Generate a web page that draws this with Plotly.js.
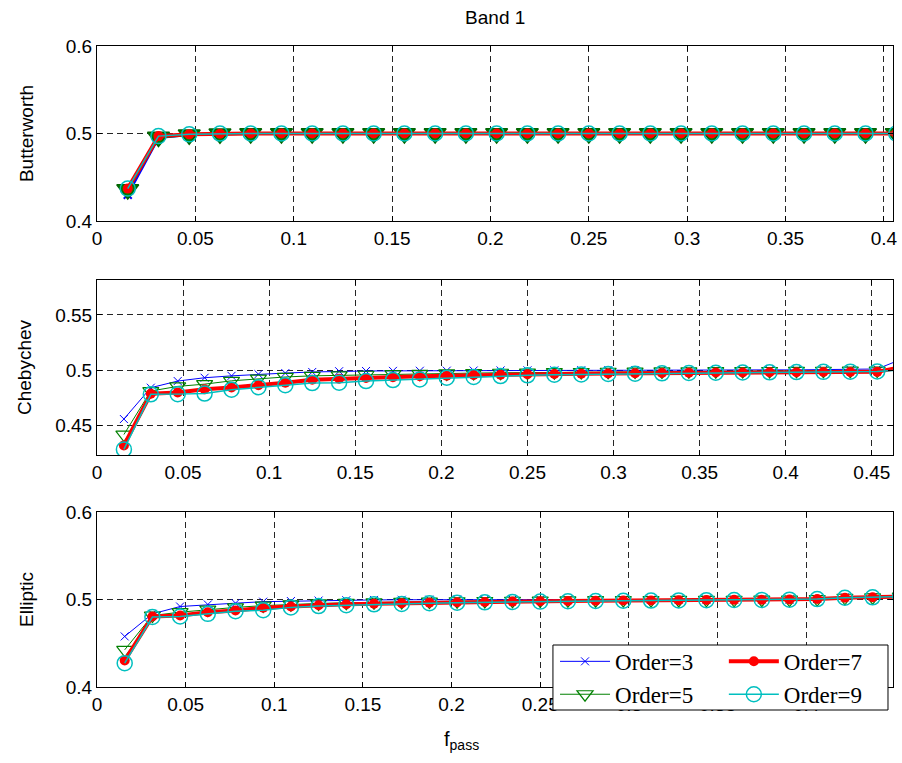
<!DOCTYPE html>
<html>
<head>
<meta charset="utf-8">
<script src="https://cdn.plot.ly/plotly-3.0.1.min.js"></script>
<style>html,body{margin:0;padding:0;background:#fff;}</style>
</head>
<body>
<div id="chart" style="width:902px;height:763px;"></div>
<script>
// f_pass sample points
var fpass = [0.015625, 0.03125, 0.046875, 0.0625, 0.078125, 0.09375, 0.109375, 0.125, 0.140625, 0.15625,
             0.171875, 0.1875, 0.203125, 0.21875, 0.234375, 0.25, 0.265625, 0.28125, 0.296875, 0.3125,
             0.328125, 0.34375, 0.359375, 0.375, 0.390625, 0.40625, 0.421875, 0.4375, 0.453125, 0.46875];

var seriesNames = ['Order=3', 'Order=5', 'Order=7', 'Order=9'];

// Butterworth panel
var butter3 = [0.430, 0.495, 0.4985, 0.4995, 0.5, 0.5, 0.5, 0.5, 0.5, 0.5, 0.5, 0.5, 0.5, 0.5, 0.5, 0.5, 0.5, 0.5, 0.5, 0.5, 0.5, 0.5, 0.5, 0.5, 0.5, 0.5];
var butter5 = [0.436, 0.496, 0.4985, 0.4997, 0.5, 0.5, 0.5, 0.5, 0.5, 0.5, 0.5, 0.5, 0.5, 0.5, 0.5, 0.5, 0.5, 0.5, 0.5, 0.5, 0.5, 0.5, 0.5, 0.5, 0.5, 0.5];
var butter7 = [0.437, 0.497, 0.499, 0.4998, 0.5, 0.5, 0.5, 0.5, 0.5, 0.5, 0.5, 0.5, 0.5, 0.5, 0.5, 0.5, 0.5, 0.5, 0.5, 0.5, 0.5, 0.5, 0.5, 0.5, 0.5, 0.5];
var butter9 = [0.437, 0.497, 0.499, 0.4999, 0.5, 0.5, 0.5, 0.5, 0.5, 0.5, 0.5, 0.5, 0.5, 0.5, 0.5, 0.5, 0.5, 0.5, 0.5, 0.5, 0.5, 0.5, 0.5, 0.5, 0.5, 0.5];

// Chebychev panel
var cheby3 = [0.456, 0.4843, 0.4903, 0.4933, 0.4950, 0.4965, 0.4975, 0.4985, 0.4992, 0.4994, 0.4995, 0.4996, 0.4997, 0.4998, 0.4999,
              0.5, 0.5, 0.5001, 0.5001, 0.5002, 0.5002, 0.5003, 0.5003, 0.5003, 0.5004, 0.5004, 0.5005, 0.5006, 0.5012, 0.511];
var cheby5 = [0.442, 0.4813, 0.4855, 0.4875, 0.4905, 0.4925, 0.494, 0.495, 0.4955, 0.496, 0.4965, 0.4968, 0.4972, 0.4975, 0.4978,
              0.498, 0.4983, 0.4985, 0.4987, 0.4989, 0.499, 0.4991, 0.4992, 0.4993, 0.4994, 0.4995, 0.4996, 0.4997, 0.4998, 0.5015];
var cheby7 = [0.4322, 0.4788, 0.4800, 0.4828, 0.4845, 0.4865, 0.4888, 0.4915, 0.4925, 0.4930, 0.4938, 0.4946, 0.4952, 0.4957, 0.4961,
              0.4964, 0.4967, 0.4970, 0.4972, 0.4974, 0.4976, 0.4978, 0.4980, 0.4981, 0.4982, 0.4983, 0.4984, 0.4985, 0.4986, 0.5035];
var cheby9 = [0.4286, 0.4783, 0.4785, 0.4790, 0.4825, 0.4848, 0.4865, 0.4885, 0.4888, 0.4903, 0.4912, 0.4918, 0.4933, 0.4940, 0.4948,
              0.4955, 0.4960, 0.4963, 0.4967, 0.4970, 0.4973, 0.4976, 0.4978, 0.4980, 0.4982, 0.4984, 0.4986, 0.4988, 0.4990, 0.5005];

// Elliptic panel
var ellip3 = [0.4578, 0.4836, 0.4920, 0.4943, 0.4958, 0.4975, 0.4982, 0.4988, 0.4992, 0.4995, 0.4997, 0.4998, 0.4999, 0.5, 0.5,
              0.5, 0.5, 0.5, 0.5, 0.5, 0.5, 0.5, 0.5, 0.5, 0.5, 0.5008, 0.5025, 0.5028, 0.5035];
var ellip5 = [0.4425, 0.4817, 0.4855, 0.4885, 0.4910, 0.4930, 0.4945, 0.4955, 0.4962, 0.4968, 0.4972, 0.4976, 0.4980, 0.4983, 0.4986,
              0.4988, 0.4990, 0.4992, 0.4993, 0.4994, 0.4995, 0.4996, 0.4997, 0.4998, 0.4999, 0.5005, 0.5020, 0.5025, 0.5032];
var ellip7 = [0.4303, 0.4806, 0.4817, 0.4855, 0.4874, 0.4905, 0.4920, 0.4935, 0.4945, 0.4952, 0.4958, 0.4963, 0.4968, 0.4972, 0.4976,
              0.4980, 0.4983, 0.4986, 0.4988, 0.4990, 0.4992, 0.4994, 0.4996, 0.4998, 0.5000, 0.5005, 0.5020, 0.5025, 0.5032];
var ellip9 = [0.4272, 0.4800, 0.4806, 0.4836, 0.4866, 0.4878, 0.4910, 0.4925, 0.4935, 0.4945, 0.4950, 0.4958, 0.4963, 0.4968, 0.4972,
              0.4976, 0.4980, 0.4983, 0.4986, 0.4988, 0.4990, 0.4992, 0.4994, 0.4995, 0.4998, 0.5005, 0.5020, 0.5025, 0.5032];

var panelTitles = ['Butterworth', 'Chebychev', 'Elliptic'];

// styles per order: thick (top panel) or thin (lower panels)
function styleFor(order, thick) {
  if (order === 0) return {
    line: {color: '#0000ff', width: thick ? 2.5 : 1},
    marker: {symbol: 'x-thin-open', size: 8, color: '#0000ff', line: {color: '#0000ff', width: thick ? 2 : 1}}
  };
  if (order === 1) return {
    line: {color: '#008000', width: thick ? 3 : 1},
    marker: thick
      ? {symbol: 'triangle-down', size: 19, color: '#008000', line: {color: '#006400', width: 1.5}}
      : {symbol: 'triangle-down-open', size: 14, color: '#008000', line: {color: '#008000', width: 1.2}}
  };
  if (order === 2) return {
    line: {color: '#ff0000', width: 4},
    marker: {symbol: 'circle', size: 10, color: '#ff0000', line: {width: 0}}
  };
  return {
    line: {color: '#00bfbf', width: 1.5},
    marker: {symbol: 'circle-open', size: 15, color: '#00bfbf', line: {color: '#00bfbf', width: 1.5}}
  };
}

var panels = [
  [butter3, butter5, butter7, butter9],
  [cheby3, cheby5, cheby7, cheby9],
  [ellip3, ellip5, ellip7, ellip9]
];

var traces = [];
panels.forEach(function (series, p) {
  series.forEach(function (vals, o) {
    var st = styleFor(o, p === 0);
    var t = {
      type: 'scatter',
      mode: 'lines+markers',
      x: fpass.slice(0, vals.length),
      y: vals,
      name: seriesNames[o],
      xaxis: p === 0 ? 'x' : 'x' + (p + 1),
      yaxis: p === 0 ? 'y' : 'y' + (p + 1),
      line: st.line,
      marker: st.marker,
      showlegend: p === 2,
      hoverinfo: 'x+y'
    };
    if (p === 2) t.legend = (o === 0 || o === 1) ? 'legend' : 'legend2';
    traces.push(t);
  });
});

var tickFont = {family: 'Liberation Sans, Arial, sans-serif', size: 19, color: '#000'};
function axisBase(extra) {
  var a = {
    showline: true, mirror: 'ticks', linecolor: '#000', linewidth: 1,
    ticks: 'inside', ticklen: 5, tickcolor: '#000', tickwidth: 1,
    showgrid: true, gridcolor: 'rgba(0,0,0,0.85)', griddash: '6px,4px', gridwidth: 1,
    zeroline: false, tickfont: tickFont, automargin: false
  };
  for (var k in extra) a[k] = extra[k];
  return a;
}
var titleFont = {family: 'Liberation Sans, Arial, sans-serif', size: 19, color: '#000'};

var legendFont = {family: 'Liberation Serif, Times New Roman, serif', size: 23, color: '#000'};

var layout = {
  width: 902, height: 763,
  margin: {l: 97, r: 9, t: 46, b: 76},
  paper_bgcolor: '#fff', plot_bgcolor: '#fff',
  title: {text: 'Band 1', font: titleFont, x: 0.549, xanchor: 'center', y: 1 - 17 / 763, yanchor: 'middle'},
  showlegend: true,
  xaxis: axisBase({anchor: 'y', domain: [0, 1], range: [0, 0.4046], tick0: 0, dtick: 0.05}),
  yaxis: axisBase({anchor: 'x', domain: [0.727, 1], range: [0.4, 0.6], tick0: 0, dtick: 0.1,
                   title: {text: panelTitles[0], font: titleFont, standoff: 27}}),
  xaxis2: axisBase({anchor: 'y2', domain: [0, 1], range: [0, 0.4623], tick0: 0, dtick: 0.05}),
  yaxis2: axisBase({anchor: 'x2', domain: [0.3619, 0.635], range: [0.4235, 0.5816], tick0: 0, dtick: 0.05,
                    title: {text: panelTitles[1], font: titleFont, standoff: 18}}),
  xaxis3: axisBase({anchor: 'y3', domain: [0, 1], range: [0, 0.449], tick0: 0, dtick: 0.05}),
  yaxis3: axisBase({anchor: 'x3', domain: [0, 0.273], range: [0.4, 0.6], tick0: 0, dtick: 0.1,
                    title: {text: panelTitles[2], font: titleFont, standoff: 27}}),
  legend: {x: 0.5754, y: 0.0735, xanchor: 'left', yanchor: 'top', bgcolor: 'rgba(0,0,0,0)',
           borderwidth: 0, font: legendFont, tracegroupgap: 0, itemwidth: 50},
  legend2: {x: 0.7875, y: 0.0735, xanchor: 'left', yanchor: 'top', bgcolor: 'rgba(0,0,0,0)',
            borderwidth: 0, font: legendFont, tracegroupgap: 0, itemwidth: 50},
  shapes: [{type: 'rect', xref: 'paper', yref: 'paper', x0: 0.5728, x1: 0.9937, y0: -0.0359, y1: 0.0655,
            fillcolor: '#fff', line: {color: '#000', width: 1}, layer: 'above'}],
  annotations: [{text: 'f<sub>pass</sub>', xref: 'paper', yref: 'paper', x: 0.4585, y: -0.0827,
                 showarrow: false, xanchor: 'center', yanchor: 'middle', font: {family: 'Liberation Sans, Arial, sans-serif', size: 20, color: '#000'}}]
};

Plotly.newPlot('chart', traces, layout, {displayModeBar: false, staticPlot: true});
</script>
</body>
</html>
